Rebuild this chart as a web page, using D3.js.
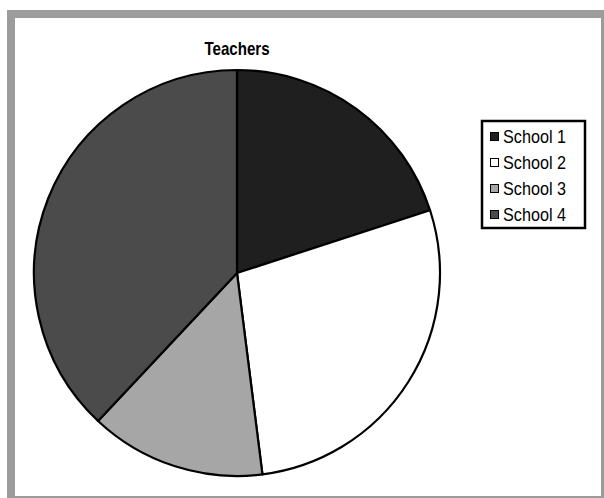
<!DOCTYPE html>
<html>
<head>
<meta charset="utf-8">
<script src="https://cdnjs.cloudflare.com/ajax/libs/d3/7.8.5/d3.min.js"></script>
<style>
  body { margin: 0; background: #fff; }
  svg text { font-family: "Liberation Sans", Arial, sans-serif; }
</style>
</head>
<body>
<div class="chart"></div>
<script>
const categories = ["School 1", "School 2", "School 3", "School 4"];
const values = [20, 28, 14, 38];
const colors = ["#1f1f1f", "#ffffff", "#a6a6a6", "#4b4b4b"];
const title = "Teachers";

const width = 604, height = 498;

const svg = d3.select(".chart").append("svg")
    .attr("width", width)
    .attr("height", height);

// grey frame
svg.append("rect")
    .attr("x", 7).attr("y", 10)
    .attr("width", width - 7).attr("height", height - 10)
    .attr("fill", "#9c9c9c");
svg.append("rect")
    .attr("x", 15).attr("y", 18)
    .attr("width", 586).attr("height", 478)
    .attr("fill", "#fff");

// narrow look: squeeze Liberation Sans horizontally
svg.append("text")
    .attr("transform", "translate(237,55) scale(0.84,1)")
    .attr("text-anchor", "middle")
    .style("font-weight", "bold")
    .style("font-size", "18px")
    .text(title);

const radius = 203;
const pieG = svg.append("g")
    .attr("transform", "translate(237,273)");

const pie = d3.pie().value(d => d).sort(null);
const arc = d3.arc().innerRadius(0).outerRadius(radius);

pieG.selectAll("path")
    .data(pie(values))
    .enter()
    .append("path")
    .attr("d", arc)
    .attr("fill", (d, i) => colors[i])
    .attr("stroke", "#000")
    .attr("stroke-width", 2.2)
    .attr("stroke-linejoin", "round");

// legend
const legend = svg.append("g").attr("transform", "translate(482,121)");
legend.append("rect")
    .attr("width", 103).attr("height", 107)
    .attr("fill", "#fff")
    .attr("stroke", "#000")
    .attr("stroke-width", 2.5);

const rows = legend.selectAll("g.row")
    .data(categories)
    .enter()
    .append("g")
    .attr("class", "row")
    .attr("transform", (d, i) => "translate(8," + (16 + i * 26) + ")");

rows.append("rect")
    .attr("x", 0.5).attr("y", -4.5)
    .attr("width", 8).attr("height", 8)
    .attr("fill", (d, i) => colors[i])
    .attr("stroke", "#000")
    .attr("stroke-width", 1);

rows.append("text")
    .attr("transform", "translate(13,6) scale(0.9,1)")
    .style("font-size", "18px")
    .text(d => d);
</script>
</body>
</html>
